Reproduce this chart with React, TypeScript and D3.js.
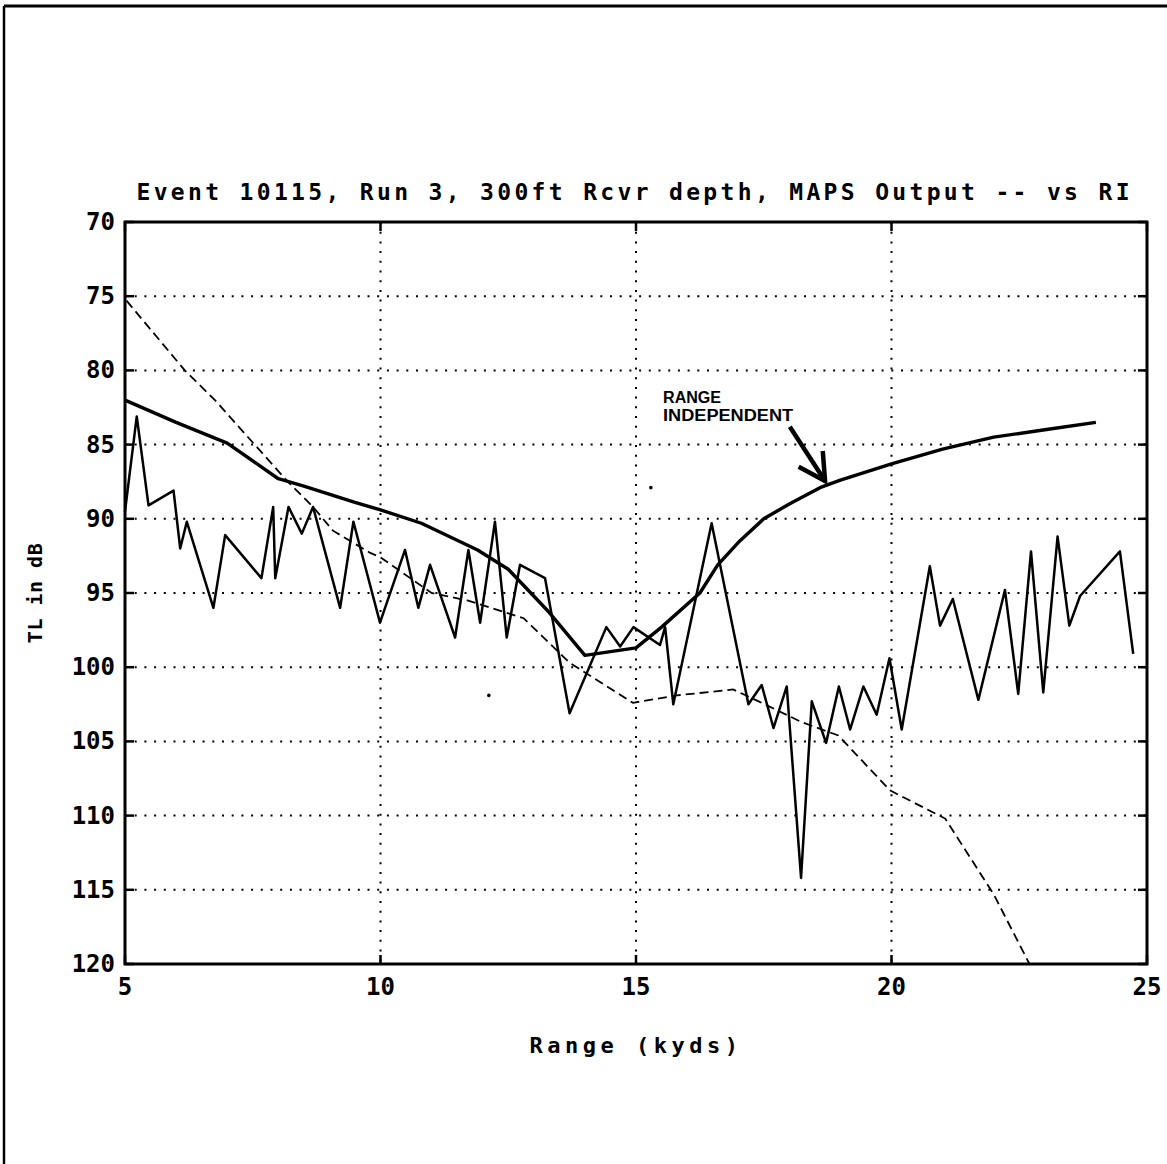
import * as d3 from "d3";

// axis ticks
const rangeTicks = [5, 10, 15, 20, 25];
const tlTicks = [70, 75, 80, 85, 90, 95, 100, 105, 110, 115, 120];

// Range independent (smooth solid line)
const riRange = [5, 6, 7, 8, 8.5, 9.5, 10, 10.8, 11.9, 12.5, 13.3, 14, 15, 15.5, 16.25, 16.6, 17, 17.5, 18, 18.6, 19, 20, 21, 22, 23, 24];
const riTL = [82.0, 83.5, 84.9, 87.3, 87.8, 88.9, 89.4, 90.3, 92.1, 93.4, 96.3, 99.2, 98.7, 97.3, 95.0, 93.1, 91.6, 90.0, 89.0, 87.9, 87.4, 86.3, 85.3, 84.5, 84.0, 83.5];

// MAPS output (dashed)
const mapsRange = [5.03, 6.17, 6.76, 7.77, 8.16, 8.68, 9.07, 9.8, 10, 11, 11.7, 12.8, 13.7, 14.94, 15.8, 16.9, 17.4, 18.24, 18.96, 19.97, 21.05, 22, 22.7];
const mapsTL = [75.3, 80.0, 82.0, 85.9, 87.4, 89.2, 90.8, 92.3, 92.6, 95.0, 95.5, 96.7, 99.7, 102.4, 101.9, 101.5, 102.3, 103.7, 104.6, 108.3, 110.2, 115.3, 120];

// measured TL (jagged thin line)
const measRange = [5, 5.23, 5.46, 5.95, 6.08, 6.21, 6.73, 6.96, 7.67, 7.9, 7.94, 8.2, 8.46, 8.68, 9.21, 9.47, 9.99, 10.48, 10.74, 10.97, 11.46, 11.72, 11.95, 12.24, 12.47, 12.73, 13.22, 13.7, 14.42, 14.69, 14.95, 15.47, 15.57, 15.73, 16.48, 17.2, 17.46, 17.69, 17.95, 18.23, 18.44, 18.72, 18.97, 19.19, 19.45, 19.71, 19.96, 20.2, 20.75, 20.95, 21.2, 21.7, 22.22, 22.48, 22.73, 22.97, 23.25, 23.48, 23.69, 24.47, 24.73];
const measTL = [89.5, 83.1, 89.1, 88.1, 92.0, 90.2, 96.0, 91.1, 94.0, 89.2, 94.0, 89.2, 91.0, 89.2, 96.0, 90.2, 97.0, 92.1, 96.0, 93.1, 98.0, 92.1, 97.0, 90.2, 98.0, 93.1, 94.0, 103.1, 97.3, 98.6, 97.3, 98.5, 97.3, 102.5, 90.3, 102.5, 101.2, 104.1, 101.3, 114.2, 102.3, 105.1, 101.3, 104.2, 101.3, 103.2, 99.4, 104.2, 93.2, 97.2, 95.4, 102.2, 94.8, 101.8, 92.2, 101.7, 91.2, 97.2, 95.2, 92.2, 99.1];

// scanner specks
const speckRange = [15.29, 12.12];
const speckTL = [87.9, 101.9];

const title = "Event 10115, Run 3, 300ft Rcvr depth, MAPS Output -- vs RI";
const noteLines = ["RANGE", "INDEPENDENT"];

const mono = "'DejaVu Sans Mono', monospace";

export default function App() {
  const W = 1167, H = 1164;
  const left = 125, right = 1147, top = 222, bottom = 964;

  const x = d3.scaleLinear().domain([5, 25]).range([left, right]);
  const y = d3.scaleLinear().domain([70, 120]).range([top, bottom]);

  const line = d3.line<[number, number]>().x(d => x(d[0])).y(d => y(d[1]));
  const zip = (a: number[], b: number[]) => a.map((v, i) => [v, b[i]] as [number, number]);

  const tickLen = 9;
  const dots = "2,7.7";

  // arrow for annotation, in data units
  const tail = [18.01, 83.8];
  const tip = [18.7, 87.45];
  const ang = Math.atan2(y(tip[1]) - y(tail[1]), x(tip[0]) - x(tail[0]));
  const head = 30;
  const barb = (s: number) => [x(tip[0]) - head * Math.cos(ang + s * 0.5), y(tip[1]) - head * Math.sin(ang + s * 0.5)];
  const b1 = barb(1), b2 = barb(-1);

  return (
    <svg width={W} height={H} style={{ position: "absolute", left: 0, top: 0, background: "#fff" }}>
      {/* page frame */}
      <line x1={4} y1={6} x2={W} y2={6} stroke="#000" strokeWidth={3} />
      <line x1={4} y1={6} x2={4} y2={H} stroke="#000" strokeWidth={2.5} />

      {/* grid */}
      {rangeTicks.slice(1, -1).map(t => (
        <line key={"gx" + t} x1={x(t)} x2={x(t)} y1={top} y2={bottom} stroke="#000" strokeWidth={2} strokeDasharray={dots} />
      ))}
      {tlTicks.slice(1, -1).map(t => (
        <line key={"gy" + t} x1={left} x2={right} y1={y(t)} y2={y(t)} stroke="#000" strokeWidth={2} strokeDasharray={dots} />
      ))}

      {/* tick marks */}
      {tlTicks.map(t => (
        <g key={"ty" + t}>
          <line x1={left} x2={left + tickLen} y1={y(t)} y2={y(t)} stroke="#000" strokeWidth={2.5} />
          <line x1={right} x2={right - tickLen} y1={y(t)} y2={y(t)} stroke="#000" strokeWidth={2.5} />
        </g>
      ))}
      {rangeTicks.map(t => (
        <g key={"tx" + t}>
          <line x1={x(t)} x2={x(t)} y1={bottom} y2={bottom - tickLen} stroke="#000" strokeWidth={2.5} />
          <line x1={x(t)} x2={x(t)} y1={top} y2={top + tickLen} stroke="#000" strokeWidth={2.5} />
        </g>
      ))}

      {/* series */}
      <path d={line(zip(mapsRange, mapsTL)) ?? ""} fill="none" stroke="#000" strokeWidth={1.8} strokeDasharray="9,5" />
      <path d={line(zip(measRange, measTL)) ?? ""} fill="none" stroke="#000" strokeWidth={2.5} strokeLinejoin="round" />
      <path d={line(zip(riRange, riTL)) ?? ""} fill="none" stroke="#000" strokeWidth={3.4} strokeLinejoin="round" />
      {speckRange.map((r, i) => (
        <circle key={"s" + i} cx={x(r)} cy={y(speckTL[i])} r={1.8} fill="#000" />
      ))}

      {/* plot box */}
      <rect x={left} y={top} width={right - left} height={bottom - top} fill="none" stroke="#000" strokeWidth={3} />

      {/* annotation */}
      {noteLines.map((s, i) => (
        <text key={s} x={x(15.53)} y={y(82.2) + i * 18} fontFamily="'Liberation Sans', Arial, sans-serif" fontWeight={700} fontSize={16}
          textLength={s.length > 5 ? 130 : 58} lengthAdjust="spacingAndGlyphs">{s}</text>
      ))}
      <line x1={x(tail[0])} y1={y(tail[1])} x2={x(tip[0])} y2={y(tip[1])} stroke="#000" strokeWidth={4.5} />
      <polyline points={`${b1[0]},${b1[1]} ${x(tip[0])},${y(tip[1])} ${b2[0]},${b2[1]}`} fill="none" stroke="#000" strokeWidth={4.5} />

      {/* labels */}
      <text x={633} y={200} textAnchor="middle" fontFamily={mono} fontWeight={700} fontSize={23} textLength={993} lengthAdjust="spacing">{title}</text>
      {tlTicks.map(t => (
        <text key={"ly" + t} x={left - 10} y={y(t) + 8} textAnchor="end" fontFamily={mono} fontWeight={700} fontSize={24}>{t}</text>
      ))}
      {rangeTicks.map(t => (
        <text key={"lx" + t} x={x(t)} y={995} textAnchor="middle" fontFamily={mono} fontWeight={700} fontSize={24}>{t}</text>
      ))}
      <text x={636} y={1053} textAnchor="middle" fontFamily={mono} fontWeight={700} fontSize={22} letterSpacing={4.5}>Range (kyds)</text>
      <text transform={`translate(42,593) rotate(-90)`} textAnchor="middle" fontFamily={mono} fontWeight={700} fontSize={20} letterSpacing={0.5}>TL in dB</text>
    </svg>
  );
}
